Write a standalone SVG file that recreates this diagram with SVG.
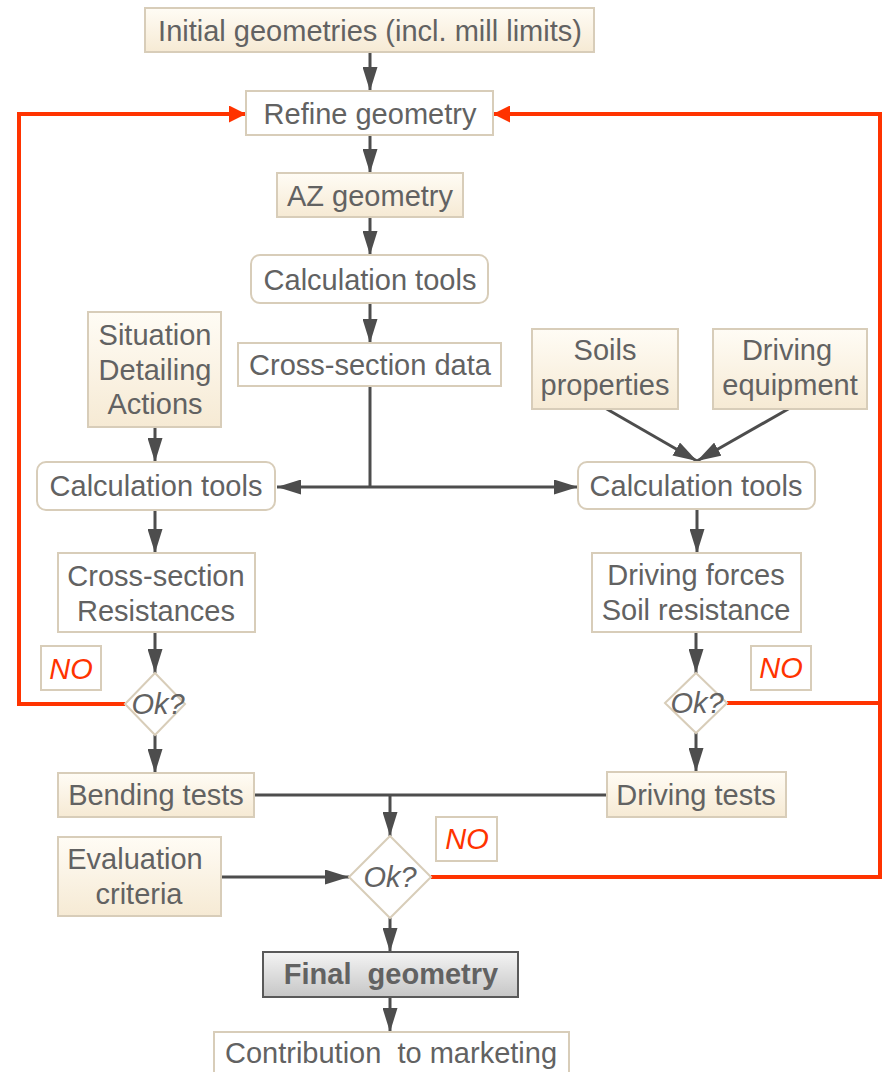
<svg xmlns="http://www.w3.org/2000/svg" width="884" height="1072" viewBox="0 0 884 1072">
<defs>
<linearGradient id="cream" x1="0" y1="0" x2="0" y2="1"><stop offset="0" stop-color="#fffcf5"/><stop offset="1" stop-color="#f6ead4"/></linearGradient>
<linearGradient id="grey" x1="0" y1="0" x2="0" y2="1"><stop offset="0" stop-color="#f4f4f4"/><stop offset="1" stop-color="#c6c6c6"/></linearGradient>
<marker id="ag" markerUnits="userSpaceOnUse" markerWidth="24" markerHeight="15" refX="24" refY="7.5" orient="auto"><path d="M0,0 L24,7.5 L0,15 z" fill="#4d4d4d"/></marker>
<marker id="ar" markerUnits="userSpaceOnUse" markerWidth="17" markerHeight="17" refX="17" refY="8.5" orient="auto"><path d="M0,0 L17,8.5 L0,17 z" fill="#ff3300"/></marker>
<style>
.n{stroke:#d8cdb9;stroke-width:2;fill:#fff}
.c{fill:url(#cream)}
.t{font-family:"Liberation Sans",Arial,sans-serif;font-size:29px;fill:#626262;text-anchor:middle}
.i{font-style:italic}
.r{fill:#ff3300}
.g{fill:none;stroke:#4d4d4d;stroke-width:3}
.rd{fill:none;stroke:#ff3300;stroke-width:4}
</style>
</defs>
<g id="connectors">
<path class="g" d="M370,52 V91" marker-end="url(#ag)"/>
<path class="g" d="M370,135 V173" marker-end="url(#ag)"/>
<path class="g" d="M370,217 V255" marker-end="url(#ag)"/>
<path class="g" d="M370,303 V343" marker-end="url(#ag)"/>
<path class="g" d="M370,386 V487"/>
<path class="g" d="M370,487 H277" marker-end="url(#ag)"/>
<path class="g" d="M370,487 H578" marker-end="url(#ag)"/>
<path class="g" d="M155,427 V462" marker-end="url(#ag)"/>
<path class="g" d="M155,510 V553" marker-end="url(#ag)"/>
<path class="g" d="M155,632 V673" marker-end="url(#ag)"/>
<path class="g" d="M155,735 V773" marker-end="url(#ag)"/>
<path class="g" d="M605,408 L697,461" marker-end="url(#ag)"/>
<path class="g" d="M790,408 L697,461" marker-end="url(#ag)"/>
<path class="g" d="M697,509 V553" marker-end="url(#ag)"/>
<path class="g" d="M696,632 V673" marker-end="url(#ag)"/>
<path class="g" d="M696,733 V772" marker-end="url(#ag)"/>
<path class="g" d="M254,795 H607"/>
<path class="g" d="M390,795 V836" marker-end="url(#ag)"/>
<path class="g" d="M221,877 H349" marker-end="url(#ag)"/>
<path class="g" d="M390,918 V952" marker-end="url(#ag)"/>
<path class="g" d="M390,997 V1032" marker-end="url(#ag)"/>
<path class="rd" d="M125,704 H19 V114 H246" marker-end="url(#ar)"/>
<path class="rd" d="M727,703 H880"/>
<path class="rd" d="M431,877 H880 V114 H493" marker-end="url(#ar)"/>
</g>
<g id="init"><rect class="n c" x="145" y="8" width="449" height="44"/><text class="t" x="370" y="41">Initial geometries (incl. mill limits)</text></g>
<g id="refine"><rect class="n" x="246" y="91" width="247" height="44"/><text class="t" x="370" y="124">Refine geometry</text></g>
<g id="az"><rect class="n c" x="277" y="173" width="186" height="44"/><text class="t" x="370" y="206">AZ geometry</text></g>
<g id="calc1"><rect class="n" x="251" y="255" width="237" height="48" rx="9"/><text class="t" x="370" y="290">Calculation tools</text></g>
<g id="csdata"><rect class="n" x="238" y="343" width="263" height="43"/><text class="t" x="370" y="375">Cross-section data</text></g>
<g id="situation"><rect class="n c" x="88" y="312" width="133" height="115"/><text class="t" x="155" y="345">Situation</text><text class="t" x="155" y="380">Detailing</text><text class="t" x="155" y="414">Actions</text></g>
<g id="calcL"><rect class="n" x="37" y="462" width="238" height="48" rx="9"/><text class="t" x="156" y="496">Calculation tools</text></g>
<g id="csres"><rect class="n" x="58" y="553" width="197" height="79"/><text class="t" x="156" y="586">Cross-section</text><text class="t" x="156" y="621">Resistances</text></g>
<g id="noL"><rect class="n" x="41" y="646" width="60" height="44"/><text class="t i r" x="71" y="679">NO</text></g>
<g id="okL"><path class="n" d="M155,673 L185,704 L155,735 L125,704 z"/><text class="t i" x="158" y="714">Ok?</text></g>
<g id="bend"><rect class="n c" x="58" y="773" width="196" height="44"/><text class="t" x="156" y="805">Bending tests</text></g>
<g id="evalc"><rect class="n c" x="58" y="837" width="163" height="79"/><text class="t" x="135" y="869">Evaluation</text><text class="t" x="139" y="904">criteria</text></g>
<g id="okB"><path class="n" d="M390,836 L431,877 L390,918 L349,877 z"/><text class="t i" x="390" y="887">Ok?</text></g>
<g id="noB"><rect class="n" x="436" y="817" width="61" height="44"/><text class="t i r" x="467" y="849">NO</text></g>
<g id="final"><rect x="263" y="952" width="255" height="45" fill="url(#grey)" stroke="#595959" stroke-width="2"/><text class="t" x="391" y="984" font-weight="bold" style="white-space:pre">Final  geometry</text></g>
<g id="contrib"><rect class="n" x="214" y="1032" width="355" height="50"/><text class="t" x="391" y="1063" style="white-space:pre">Contribution  to marketing</text></g>
<g id="soils"><rect class="n c" x="532" y="329" width="146" height="80"/><text class="t" x="605" y="360">Soils</text><text class="t" x="605" y="395">properties</text></g>
<g id="drvEq"><rect class="n c" x="713" y="329" width="154" height="80"/><text class="t" x="787" y="360">Driving</text><text class="t" x="790" y="395">equipment</text></g>
<g id="calcR"><rect class="n" x="578" y="462" width="237" height="47" rx="9"/><text class="t" x="696" y="496">Calculation tools</text></g>
<g id="drvF"><rect class="n" x="592" y="553" width="209" height="79"/><text class="t" x="696" y="585">Driving forces</text><text class="t" x="696" y="620">Soil resistance</text></g>
<g id="noR"><rect class="n" x="751" y="646" width="60" height="44"/><text class="t i r" x="781" y="678">NO</text></g>
<g id="okR"><path class="n" d="M696,673 L727,703 L696,733 L665,703 z"/><text class="t i" x="697" y="713">Ok?</text></g>
<g id="drvT"><rect class="n c" x="607" y="772" width="179" height="45"/><text class="t" x="696" y="805">Driving tests</text></g>
</svg>
